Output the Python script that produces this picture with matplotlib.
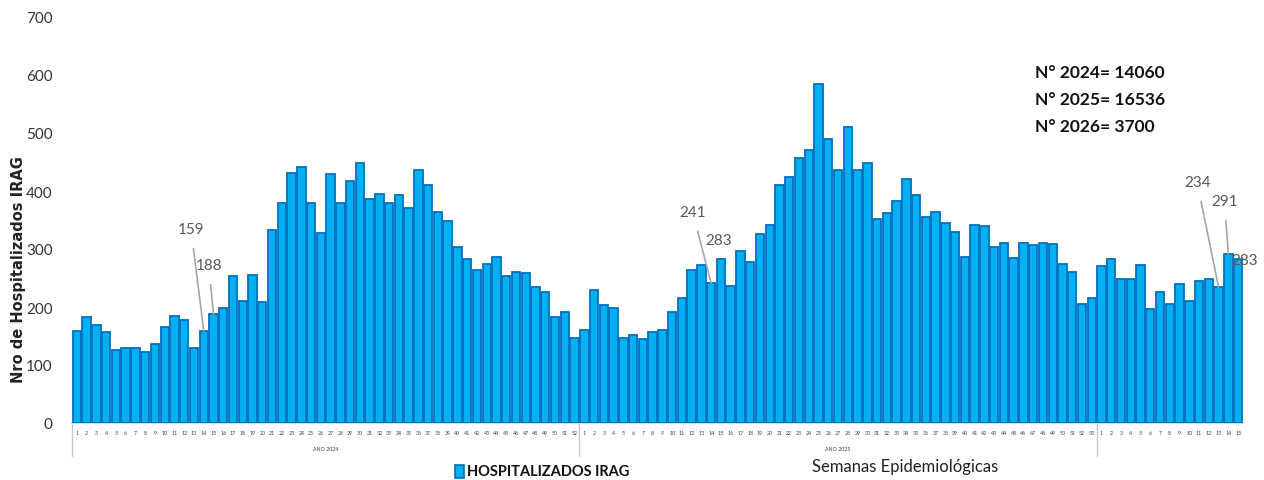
import matplotlib
matplotlib.use("Agg")
import matplotlib.pyplot as plt
from matplotlib.patches import Rectangle
from matplotlib.lines import Line2D

# ---------------- data ----------------
weeks_2024 = list(range(1, 53))
weeks_2025 = list(range(1, 54))
weeks_2026 = list(range(1, 16))

vals_2024 = [159, 182, 169, 157, 126, 130, 129, 122, 137, 165, 184, 177, 130, 159, 188, 199,
             253, 211, 255, 208, 332, 379, 431, 441, 379, 328, 429, 380, 418, 448, 386, 395,
             380, 393, 371, 436, 411, 363, 349, 303, 283, 264, 274, 286, 254, 261, 259, 234,
             226, 183, 192, 147]
vals_2025 = [160, 230, 203, 199, 147, 152, 144, 157, 160, 192, 216, 263, 272, 241, 283, 236,
             296, 278, 326, 342, 411, 424, 457, 471, 585, 489, 436, 511, 436, 448, 351, 362,
             383, 421, 393, 355, 364, 344, 329, 286, 342, 340, 304, 311, 284, 311, 307, 311,
             309, 275, 261, 205, 216]
vals_2026 = [270, 283, 248, 248, 273, 197, 226, 205, 240, 210, 245, 248, 234, 291, 283]

year_labels = ["AÑO 2024", "AÑO 2025", ""]
totals_text = ["N° 2024= 14060", "N° 2025= 16536", "N° 2026= 3700"]
series_name = "HOSPITALIZADOS IRAG"
x_title = "Semanas Epidemiológicas"
y_title = "Nro de Hospitalizados IRAG"

# labelled bars: (year index, week, text offset dx, dy, draw leader)
labelled = [(0, 14, -1.3, 175, True), (0, 15, -0.5, 84, True),
            (1, 14, -1.9, 123, True), (1, 15, -0.2, 32, False),
            (2, 13, -2.2, 181, True), (2, 14, -0.4, 92, True),
            (2, 15, 0.7, -2, False)]

# ---------------- build ----------------
weeks_all = weeks_2024 + weeks_2025 + weeks_2026
vals_all = vals_2024 + vals_2025 + vals_2026
x = list(range(len(vals_all)))
groups = [len(weeks_2024), len(weeks_2025), len(weeks_2026)]
starts = [0, groups[0], groups[0] + groups[1]]

FONT = ["Lato", "DejaVu Sans"]

W, H = 1264, 481
fig = plt.figure(figsize=(W / 100, H / 100), dpi=100)
ax = fig.add_axes([72 / W, (H - 424) / H, (1243 - 72) / W, (424 - 18) / H])

ax.bar(x, vals_all, width=0.86, color="#00B0F0", edgecolor="#0070C0", linewidth=1.3,
       zorder=3)
ax.set_xlim(-0.5, len(vals_all) - 0.5)
ax.set_ylim(0, 700)
ax.set_yticks(range(0, 701, 100))
ax.set_yticklabels([str(v) for v in range(0, 701, 100)], family=FONT, fontsize=11,
                   color="#333333")
ax.tick_params(axis="y", length=0, pad=14)
ax.set_xticks(x)
ax.set_xticklabels([str(w) for w in weeks_all], fontsize=3.8, color="#404040",
                   family=FONT)
ax.tick_params(axis="x", length=0, pad=5)
for s in ["top", "right", "left"]:
    ax.spines[s].set_visible(False)
ax.spines["bottom"].set_color("#D0D0D0")
ax.spines["bottom"].set_linewidth(1.2)

ax.set_ylabel(y_title, fontsize=10.5, fontweight="bold", color="#222222",
              family=["DejaVu Sans"])
ax.yaxis.set_label_coords(-46 / 1171, 0.38)

# multi-level category separators and year labels
trans = ax.get_xaxis_transform()
for i, st in enumerate(starts):
    xs = st - 0.5
    ax.add_line(Line2D([xs, xs], [0, -33 / 406], transform=trans, color="#C8C8C8",
                       linewidth=1.0, clip_on=False))
    if year_labels[i]:
        cx = st + groups[i] / 2 - 0.5
        ax.text(cx, -26 / 406, year_labels[i], transform=trans, ha="center",
                va="center", fontsize=3.8, color="#404040", family=FONT)

# data labels with leader lines
for yi, wk, dx, dy, lead in labelled:
    idx = starts[yi] + wk - 1
    v = vals_all[idx]
    ax.annotate(str(v), xy=(idx, v), xytext=(idx + dx, v + dy), ha="center",
                va="center", fontsize=11, color="#595959", family=FONT,
                arrowprops=dict(arrowstyle="-", color="#A6A6A6", lw=1.2,
                                shrinkA=7, shrinkB=0) if lead else None,
                zorder=5)

# totals text
for j, t in enumerate(totals_text):
    fig.text(1035 / W, 1 - (73 + 27 * j) / H, t, fontsize=12.5, fontweight="bold",
             family=FONT, color="#111111", ha="left", va="center")

# legend
fig.patches.append(Rectangle((455 / W, 1 - 479 / H), 9 / W, 13 / H,
                             transform=fig.transFigure, facecolor="#00B0F0",
                             edgecolor="#0070C0", linewidth=1.2))
fig.text(467 / W, 1 - 472 / H, series_name, fontsize=10.5, fontweight="bold",
         family=FONT, color="#111111", ha="left", va="center")

# x title
fig.text(905 / W, 1 - 467 / H, x_title, fontsize=12, family=FONT, color="#222222",
         ha="center", va="center")

fig.savefig("out.png", dpi=100)
